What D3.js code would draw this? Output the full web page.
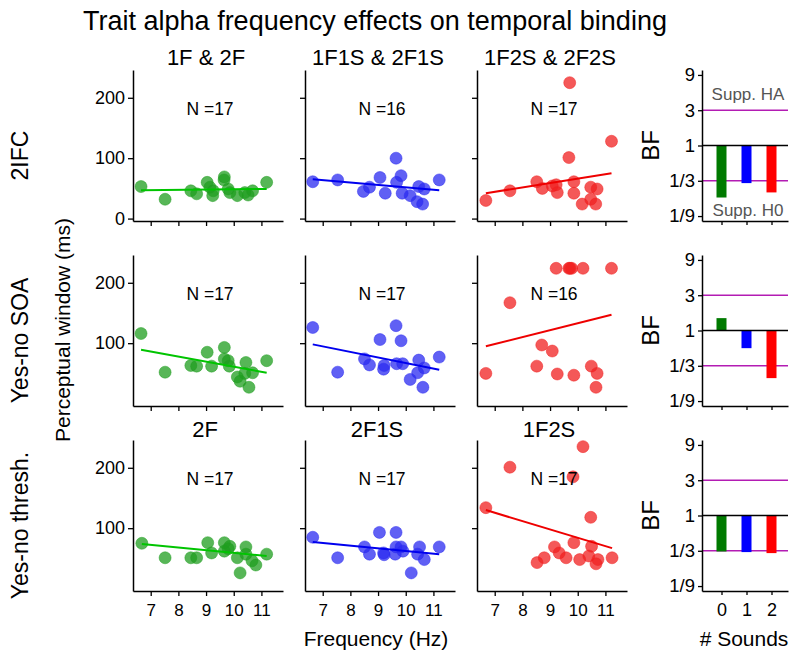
<!DOCTYPE html>
<html><head><meta charset="utf-8">
<script src="https://cdn.jsdelivr.net/npm/d3@7"></script>
<style>body{margin:0;background:#fff}svg{font-family:"Liberation Sans",Arial,sans-serif}</style>
</head><body><svg id="c" width="800" height="660"></svg>
<script>
// ---------- data ----------
const rowLabels = ["2IFC", "Yes-no SOA", "Yes-no thresh."];
const colTitlesTop = ["1F & 2F", "1F1S & 2F1S", "1F2S & 2F2S"];
const colTitlesBottom = ["2F", "2F1S", "1F2S"];
const colColors = ["#1f9e1f", "#2b2bf0", "#f02020"];
const lineColors = ["#00c400", "#0000ee", "#ee0000"];
const barColors = ["#007a00", "#0000ff", "#ff0000"];
const xTicks = [7, 8, 9, 10, 11];
const yTicksRow = [[0, 100, 200], [100, 200], [100, 200]];
const bfTicks = [9, 3, 1, 1/3, 1/9];
const bfTickLabels = ["9", "3", "1", "1/3", "1/9"];
const soundCats = [0, 1, 2];
const nLabels = [[17, 16, 17], [17, 17, 16], [17, 17, 17]];

// frequency (Hz) per point, and perceptual window (ms)
const r1c1x = [6.65,7.52,8.45,8.66,9.04,9.14,9.26,9.24,9.66,9.65,9.80,9.86,10.13,10.40,10.52,10.68,11.19];
const r1c1y = [53,32,46,41,60,52,46,38,69,64,49,43,38,43,39,46,60];
const r1c2x = [6.64,7.54,8.47,8.69,9.07,9.26,9.65,9.83,9.67,9.87,10.16,10.41,10.61,10.47,10.67,11.21];
const r1c2y = [61,64,45,52,68,42,100,71,60,42,38,28,24,53,49,64];
const r1c3x = [6.68,7.55,8.52,8.72,9.08,9.22,9.26,9.71,9.68,9.86,9.86,10.16,10.47,10.70,10.47,10.65,11.22];
const r1c3y = [30,46,61,50,54,56,43,225,101,61,42,24,52,49,32,24,128];
const r2c1x = [6.65,7.52,8.45,8.66,9.04,9.20,9.66,9.66,9.80,9.84,10.44,11.19,10.13,10.40,10.68,10.55,10.23];
const r2c1y = [116,52,63,62,85,62,93,74,71,62,68,71,44,50,51,27,37];
const r2c2x = [6.64,7.54,8.51,8.69,9.07,9.22,9.20,9.65,9.83,9.67,9.89,10.47,10.67,10.43,10.16,11.21,10.62];
const r2c2y = [126,52,74,64,106,63,57,129,104,66,66,72,59,51,40,77,27];
const r2c3x = [9.22,9.68,9.78,10.19,11.22,7.55,8.70,9.08,6.68,8.52,9.26,9.86,10.49,10.70,10.66,9.72];
const r2c3y = [224,224,224,224,224,167,97,87,50,62,49,47,62,50,27,224];
const r3c1x = [6.68,9.06,9.66,9.86,10.44,7.52,8.45,8.66,9.20,9.80,10.13,10.23,10.44,10.66,10.80,11.19,9.66];
const r3c1y = [75,76,76,70,69,51,51,51,59,66,51,26,57,46,39,57,62];
const r3c2x = [6.64,9.05,9.65,8.51,9.65,9.83,10.50,11.21,7.54,8.69,9.22,9.20,9.90,10.43,10.20,10.67,9.62];
const r3c2y = [85,93,93,69,69,69,69,69,51,57,56,59,62,57,26,48,57];
const r3c3x = [6.68,7.55,9.83,10.19,10.47,9.16,9.86,10.50,11.24,10.73,8.53,8.79,9.33,9.58,10.66,10.40,10.07];
const r3c3y = [134,201,185,235,118,69,76,70,51,48,43,51,59,51,41,54,48];

// fitted line end values (ms) at min and max frequency
const fitStart = [[47, 65, 42], [89, 98, 95], [74, 77, 130]];
const fitEnd = [[49, 47, 75], [51, 56, 147], [54, 57, 67]];

// Bayes factors per row for 0,1,2 sounds
const bfRow1 = [0.198, 0.31, 0.232];
const bfRow2 = [1.47, 0.577, 0.227];
const bfRow3 = [0.326, 0.32, 0.31];

// ---------- drawing ----------
const xs = [[r1c1x, r1c2x, r1c3x], [r2c1x, r2c2x, r2c3x], [r3c1x, r3c2x, r3c3x]];
const ys = [[r1c1y, r1c2y, r1c3y], [r2c1y, r2c2y, r2c3y], [r3c1y, r3c2y, r3c3y]];
const bfs = [bfRow1, bfRow2, bfRow3];

const svg = d3.select("#c");
const colLeft = [133, 305, 477];
const pw = 150;
const rowTop = [70, 255, 440];
const ph = 151;
const bfLeft = 702, bfRight = 788;

svg.append("text").attr("x", 375).attr("y", 30).attr("text-anchor", "middle")
  .attr("font-size", 27).text("Trait alpha frequency effects on temporal binding");

function styleAxis(g, fs) {
  g.selectAll("path").attr("stroke", "#000").attr("stroke-width", 1.5);
  g.selectAll("line").attr("stroke", "#000").attr("stroke-width", 1.3);
  g.selectAll("text").attr("fill", "#000").attr("font-size", fs)
    .attr("font-family", '"Liberation Sans",Arial,sans-serif');
}

for (let r = 0; r < 3; r++) {
  const top = rowTop[r], bot = top + ph;
  for (let c = 0; c < 3; c++) {
    const left = colLeft[c];
    const x = d3.scaleLinear().domain([6.36, 11.78]).range([left, left + pw]);
    const y = d3.scaleLinear().domain([-4, 246]).range([bot, top]);
    const g = svg.append("g");
    const gx = g.append("g").attr("transform", `translate(0,${bot})`)
      .call(d3.axisBottom(x).tickValues(xTicks).tickSize(5).tickSizeOuter(0)
        .tickFormat(r === 2 ? d3.format("d") : () => ""));
    styleAxis(gx, 17);
    gx.selectAll("text").attr("dy", "1.0em");
    const gy = g.append("g").attr("transform", `translate(${left},0)`)
      .call(d3.axisLeft(y).tickValues(yTicksRow[r]).tickSize(5).tickSizeOuter(0)
        .tickFormat(c === 0 ? d3.format("d") : () => ""));
    styleAxis(gy, 18);
    const pts = xs[r][c].map((v, i) => [v, ys[r][c][i]]);
    g.append("g").selectAll("circle").data(pts).join("circle")
      .attr("cx", d => x(d[0])).attr("cy", d => y(d[1])).attr("r", 6)
      .attr("fill", colColors[c]).attr("fill-opacity", 0.75)
      .attr("stroke", colColors[c]).attr("stroke-opacity", 0.6).attr("stroke-width", 0.8);
    const x0 = d3.min(xs[r][c]), x1 = d3.max(xs[r][c]);
    g.append("line").attr("x1", x(x0)).attr("x2", x(x1))
      .attr("y1", y(fitStart[r][c])).attr("y2", y(fitEnd[r][c]))
      .attr("stroke", lineColors[c]).attr("stroke-width", 2);
    g.append("text").attr("x", left + pw / 2 + 2).attr("y", top + 45)
      .attr("text-anchor", "middle").attr("font-size", 17.5).text("N =" + nLabels[r][c]);
    if (r === 0) g.append("text").attr("x", left + pw / 2 - 2).attr("y", 65)
      .attr("text-anchor", "middle").attr("font-size", 22).text(colTitlesTop[c]);
    if (r === 2) g.append("text").attr("x", left + pw / 2 - 3).attr("y", 437)
      .attr("text-anchor", "middle").attr("font-size", 22).text(colTitlesBottom[c]);
  }
  svg.append("text").attr("transform", `translate(28,${top + ph / 2 + 10}) rotate(-90)`)
    .attr("text-anchor", "middle").attr("font-size", 23).text(rowLabels[r]);

  // BF panel
  const bx = d3.scaleLinear().domain([-0.78, 2.66]).range([bfLeft, bfRight]);
  const by = d3.scaleLog().base(3).domain([Math.pow(3, -2.14), Math.pow(3, 2.14)]).range([bot, top]);
  const bg = svg.append("g");
  [3, 1/3].forEach(v => bg.append("line").attr("x1", bfLeft).attr("x2", bfRight)
    .attr("y1", by(v)).attr("y2", by(v)).attr("stroke", "#b31cb3").attr("stroke-width", 1.5));
  bg.selectAll("rect").data(bfs[r]).join("rect")
    .attr("x", (d, i) => bx(soundCats[i]) - 5).attr("width", 10)
    .attr("y", d => Math.min(by(d), by(1))).attr("height", d => Math.abs(by(d) - by(1)))
    .attr("fill", (d, i) => barColors[i]);
  bg.append("line").attr("x1", bfLeft).attr("x2", bfRight)
    .attr("y1", by(1)).attr("y2", by(1)).attr("stroke", "#000").attr("stroke-width", 1.5);
  const bgy = bg.append("g").attr("transform", `translate(${bfLeft},0)`)
    .call(d3.axisLeft(by).tickValues(bfTicks).tickSize(4).tickSizeOuter(0)
      .tickFormat((d, i) => bfTickLabels[i]));
  styleAxis(bgy, 18.5);
  const bgx = bg.append("g").attr("transform", `translate(0,${bot})`)
    .call(d3.axisBottom(bx).tickValues(soundCats).tickSize(4).tickSizeOuter(0)
      .tickFormat(r === 2 ? d3.format("d") : () => ""));
  styleAxis(bgx, 18);
  bgx.selectAll("text").attr("dy", "1.0em");
  svg.append("text").attr("transform", `translate(659,${top + ph / 2}) rotate(-90)`)
    .attr("text-anchor", "middle").attr("font-size", 24).text("BF");
  if (r === 0) {
    bg.append("text").attr("x", 748).attr("y", 100).attr("text-anchor", "middle")
      .attr("font-size", 17).attr("fill", "#555").text("Supp. HA");
    bg.append("text").attr("x", 748).attr("y", 216).attr("text-anchor", "middle")
      .attr("font-size", 17).attr("fill", "#555").text("Supp. H0");
  }
}

svg.append("text").attr("transform", "translate(70,330) rotate(-90)")
  .attr("text-anchor", "middle").attr("font-size", 21).text("Perceptual window (ms)");
svg.append("text").attr("x", 376).attr("y", 646).attr("text-anchor", "middle")
  .attr("font-size", 21).text("Frequency (Hz)");
svg.append("text").attr("x", 744).attr("y", 646).attr("text-anchor", "middle")
  .attr("font-size", 21).text("# Sounds");
</script></body></html>
